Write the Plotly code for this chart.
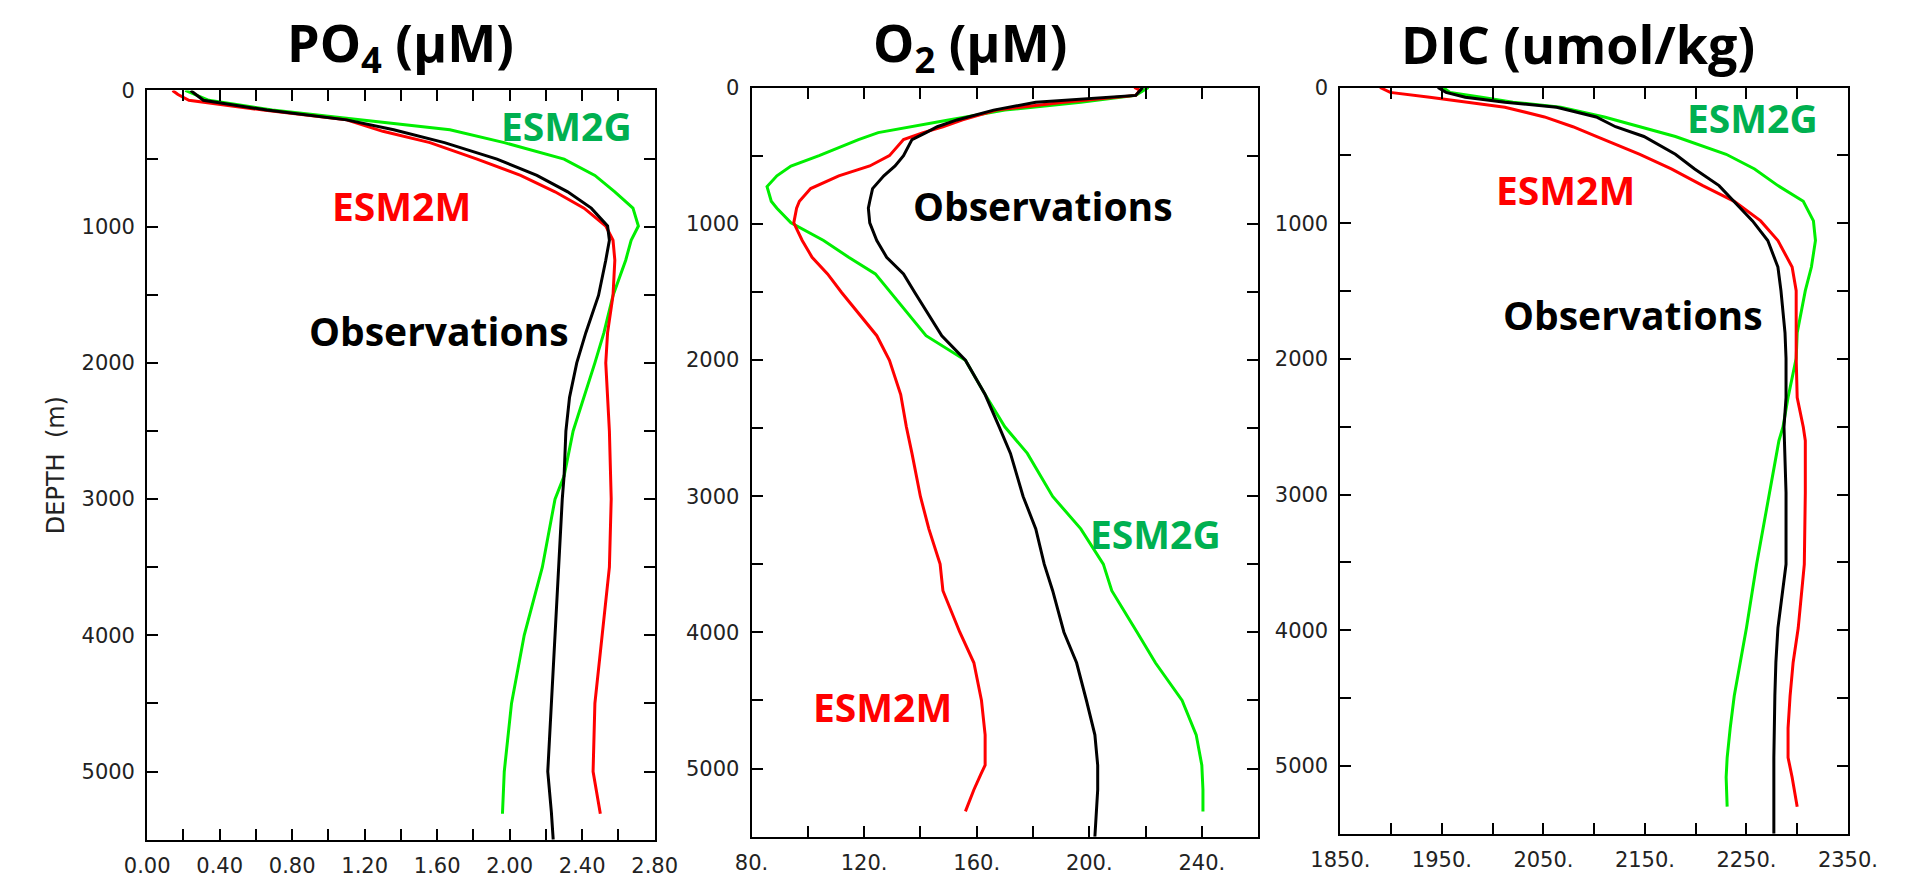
import plotly.graph_objects as go

W, H = 1907, 878

# ---------------- PO4 (uM) profiles ----------------
po4_obs_depth = [0, 72, 144, 216, 288, 383, 504, 624, 744, 864, 995, 1100, 1246, 1505, 1778,
                 2000, 2254, 2500, 2830, 3000, 3500, 4000, 4500, 5000, 5300, 5500]
po4_obs = [0.24, 0.31, 0.66, 1.10, 1.36, 1.64, 1.93, 2.15, 2.32, 2.45, 2.54, 2.55, 2.53, 2.49, 2.42,
           2.37, 2.33, 2.31, 2.30, 2.29, 2.27, 2.25, 2.23, 2.21, 2.23, 2.24]

po4_m_depth = [0, 30, 72, 144, 216, 300, 383, 504, 624, 744, 864, 995, 1100, 1246, 1505, 1778,
               2000, 2500, 3000, 3500, 4000, 4500, 5000, 5150, 5310]
po4_m = [0.14, 0.17, 0.23, 0.64, 1.10, 1.30, 1.56, 1.82, 2.06, 2.25, 2.41, 2.53, 2.57, 2.58, 2.57, 2.54,
         2.53, 2.55, 2.56, 2.55, 2.51, 2.47, 2.46, 2.48, 2.50]

po4_g_depth = [0, 72, 144, 228, 288, 383, 504, 624, 744, 864, 995, 1100, 1246, 1505, 1778,
               2000, 2254, 2500, 2830, 3000, 3500, 4000, 4500, 5000, 5310]
po4_g = [0.21, 0.34, 0.69, 1.27, 1.67, 1.97, 2.30, 2.47, 2.58, 2.68, 2.71, 2.67, 2.64, 2.57, 2.52,
         2.47, 2.41, 2.35, 2.30, 2.25, 2.18, 2.08, 2.01, 1.97, 1.96]

# ---------------- O2 (uM) profiles ----------------
o2_obs_depth = [0, 58, 108, 166, 238, 288, 331, 382, 500, 576, 648, 742, 835, 886, 994, 1123, 1246,
                1368, 1505, 1822, 2002, 2254, 2491, 2686, 3002, 3240, 3499, 3694, 3999, 4223,
                4500, 4752, 4975, 5155, 5500]
o2_obs = [219, 216.5, 181, 166, 153, 146, 142, 137, 134, 131, 127, 123, 122, 121.5, 122, 124.5, 128,
          134, 138, 147.6, 156, 163, 168, 172, 176.5, 181, 184, 187, 191, 195.5,
          199, 202, 203, 203, 202]

o2_m_depth = [0, 20, 58, 108, 166, 238, 288, 331, 382, 500, 576, 648, 742, 835, 886, 994, 1123,
              1246, 1368, 1505, 1822, 2002, 2254, 2491, 2686, 3002, 3240, 3499, 3694, 3999, 4223,
              4500, 4752, 4975, 5040, 5155, 5314]
o2_m = [216, 218, 216.5, 191, 167, 155, 148, 141, 134, 129, 122, 111, 101, 97, 96, 95, 98,
        101.5, 107, 112, 124.5, 129, 133, 135, 137, 140, 143, 147, 148, 154, 159,
        161.7, 163, 163, 161.5, 159, 156]

o2_g_depth = [0, 58, 108, 166, 238, 288, 331, 382, 500, 576, 648, 727, 835, 886, 994, 1123, 1246,
              1368, 1505, 1822, 2002, 2254, 2491, 2686, 3002, 3240, 3499, 3694, 3999, 4223,
              4500, 4752, 4975, 5155, 5314]
o2_g = [221, 216.5, 197, 170, 150, 136, 125, 118, 104, 94, 89, 85.5, 87, 89, 94, 105.6, 114.5,
        124, 129.5, 142, 156, 163, 170, 178, 187, 197, 205, 208, 217, 223.5,
        233, 238, 240, 240.4, 240.4]

# ---------------- DIC (umol/kg) profiles ----------------
dic_obs_depth = [0, 36, 72, 108, 145, 217, 289, 361, 492, 600, 723, 839, 983, 1128, 1323, 1497,
                 1808, 1996, 2285, 2502, 2986, 3514, 3984, 4237, 4483, 4938, 5300, 5500]
dic_obs = [1946, 1954, 1973, 2012, 2063, 2102, 2121, 2149, 2180, 2199, 2223, 2238, 2256, 2271, 2281, 2284,
           2288, 2289, 2289, 2287, 2289, 2289, 2281, 2279, 2278, 2277, 2277, 2277]

dic_m_depth = [0, 36, 72, 108, 145, 217, 289, 361, 492, 600, 723, 839, 983, 1128, 1323, 1497,
               1808, 1996, 2285, 2502, 2603, 2986, 3514, 3984, 4237, 4483, 4721, 4938, 5083, 5300]
dic_m = [1889, 1899, 1938, 1973, 2012, 2051, 2079, 2102, 2145, 2176, 2207, 2238, 2264, 2281, 2295, 2299,
         2299, 2299, 2300, 2306, 2308, 2308, 2307, 2301, 2296, 2293, 2291, 2291, 2295, 2300]

dic_g_depth = [0, 36, 72, 108, 145, 217, 289, 361, 492, 600, 723, 839, 983, 1128, 1323, 1497,
               1808, 1996, 2285, 2502, 2603, 2986, 3514, 3984, 4237, 4483, 4721, 4938, 5083, 5300]
dic_g = [1951, 1958, 1989, 2020, 2067, 2110, 2145, 2180, 2230, 2258, 2281, 2306, 2316, 2318, 2314, 2308,
         2300, 2299, 2291, 2286, 2282, 2273, 2260, 2250, 2244, 2238, 2234, 2231, 2230, 2231]

# Labelled ticks (major) and unlabelled ticks (minor)
depth_ticks = [0, 1000, 2000, 3000, 4000, 5000]
depth_labels = ["0", "1000", "2000", "3000", "4000", "5000"]
depth_minor = [500, 1500, 2500, 3500, 4500]

po4_ticks = [0.0, 0.4, 0.8, 1.2, 1.6, 2.0, 2.4, 2.8]
po4_labels = ["0.00", "0.40", "0.80", "1.20", "1.60", "2.00", "2.40", "2.80"]
po4_minor = [0.2, 0.6, 1.0, 1.4, 1.8, 2.2, 2.6]

o2_ticks = [80, 120, 160, 200, 240]
o2_labels = ["80.", "120.", "160.", "200.", "240."]
o2_minor = [100, 140, 180, 220]

dic_ticks = [1850, 1950, 2050, 2150, 2250, 2350]
dic_labels = ["1850.", "1950.", "2050.", "2150.", "2250.", "2350."]
dic_minor = [1900, 2000, 2100, 2200, 2300]

GREEN_LINE = "#00EE00"
RED = "#FF0000"
BLACK = "#000000"
GREEN_TEXT = "#00B050"

fig = go.Figure()


def profile(x, y, color, xa, ya):
    fig.add_trace(go.Scatter(
        x=x, y=y, mode="lines", line=dict(color=color, width=3),
        xaxis=xa, yaxis=ya, showlegend=False, hoverinfo="skip"))


profile(po4_g, po4_g_depth, GREEN_LINE, "x", "y")
profile(po4_m, po4_m_depth, RED, "x", "y")
profile(po4_obs, po4_obs_depth, BLACK, "x", "y")

profile(o2_g, o2_g_depth, GREEN_LINE, "x2", "y2")
profile(o2_m, o2_m_depth, RED, "x2", "y2")
profile(o2_obs, o2_obs_depth, BLACK, "x2", "y2")

profile(dic_g, dic_g_depth, GREEN_LINE, "x3", "y3")
profile(dic_m, dic_m_depth, RED, "x3", "y3")
profile(dic_obs, dic_obs_depth, BLACK, "x3", "y3")

tick_font = dict(family="DejaVu Sans", size=21, color="#222222")
common = dict(showline=True, linecolor="black", linewidth=2, mirror="ticks",
              ticks="inside", ticklen=11, tickwidth=2, tickcolor="black",
              showgrid=False, zeroline=False, tickfont=tick_font, fixedrange=True)


def minor_ticks(vals):
    return dict(tickmode="array", tickvals=vals, ticks="inside", ticklen=11,
                tickwidth=2, tickcolor="black", showgrid=False)


def px_x(a, b):
    return [a / W, b / W]


def px_y(top, bottom):
    return [1 - bottom / H, 1 - top / H]


yaxis_common = dict(common, range=[5500, 0], tickmode="array",
                    tickvals=depth_ticks, ticktext=depth_labels, ticklabelstandoff=6,
                    minor=minor_ticks(depth_minor))

fig.update_layout(
    width=W, height=H, margin=dict(l=0, r=0, t=0, b=0),
    paper_bgcolor="white", plot_bgcolor="white",
    xaxis=dict(common, domain=px_x(121, 645), anchor="y", range=[0, 2.8],
               tickmode="array", tickvals=po4_ticks, ticktext=po4_labels, ticklabelstandoff=6,
               minor=minor_ticks(po4_minor)),
    yaxis=dict(yaxis_common, domain=px_y(80, 844), anchor="x"),
    xaxis2=dict(common, domain=px_x(745, 1268), anchor="y2", range=[80, 260],
                tickmode="array", tickvals=o2_ticks, ticktext=o2_labels, ticklabelstandoff=6,
                minor=minor_ticks(o2_minor)),
    yaxis2=dict(yaxis_common, domain=px_y(77, 841), anchor="x2"),
    xaxis3=dict(common, domain=px_x(1353, 1877), anchor="y3", range=[1850, 2350],
                tickmode="array", tickvals=dic_ticks, ticktext=dic_labels, ticklabelstandoff=6,
                minor=minor_ticks(dic_minor)),
    yaxis3=dict(yaxis_common, domain=px_y(77, 838), anchor="x3"),
)


def label(text, cx, cy, color, size=39, angle=0, family="Open Sans", weight=700):
    fig.add_annotation(
        text=text, x=cx / W, y=1 - cy / H, xref="paper", yref="paper",
        xanchor="center", yanchor="middle", showarrow=False, textangle=angle,
        font=dict(family=family, size=size, color=color, weight=weight))


# Panel titles
label("PO<sub>4</sub> (μM)", 383, 34, "black", size=52)
label("O<sub>2</sub> (μM)", 971, 34, "black", size=52)
label("DIC (umol/kg)", 1598, 32, "black", size=52)

# Curve labels
label("ESM2G", 554, 116, GREEN_TEXT)
label("ESM2M", 384, 197, RED)
label("Observations", 422, 325, "black")

label("Observations", 1046, 197, "black")
label("ESM2G", 1162, 532, GREEN_TEXT)
label("ESM2M", 880, 708, RED)

label("ESM2G", 1778, 108, GREEN_TEXT)
label("ESM2M", 1585, 181, RED)
label("Observations", 1655, 308, "black")

# Depth axis title
label("DEPTH  (m)", 27, 462, "#222222", size=24, angle=-90, family="DejaVu Sans", weight=400)

fig.write_html("out.html")
